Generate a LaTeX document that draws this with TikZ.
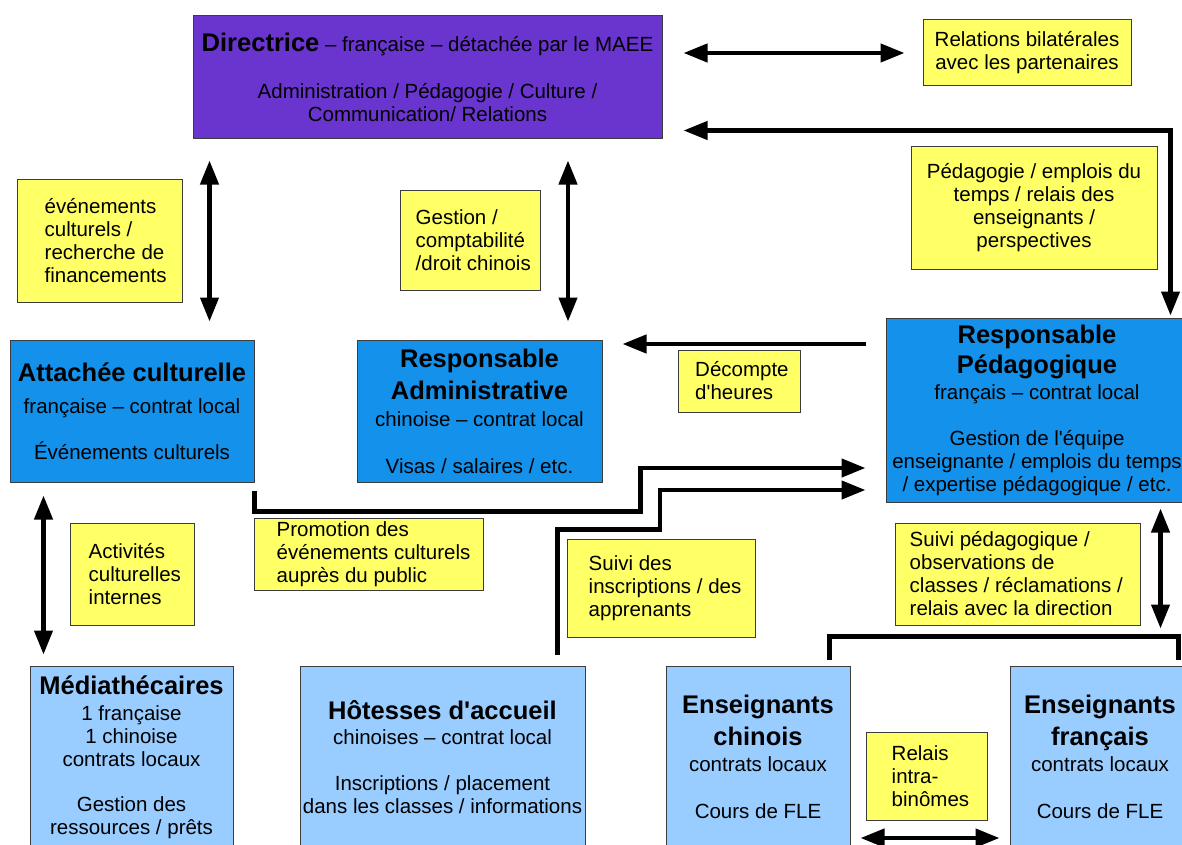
\documentclass[tikz,border=0pt]{standalone}
\usepackage{fontspec}
\setmainfont{Liberation Sans}
\usetikzlibrary{arrows.meta,calc}
\definecolor{purp}{RGB}{106,52,206}
\definecolor{blueD}{RGB}{20,145,235}
\definecolor{blueL}{RGB}{153,204,255}
\definecolor{yel}{RGB}{255,255,102}
\definecolor{bord}{RGB}{60,60,60}
\newcommand\TitF{\fontsize{25.5}{30}\selectfont\bfseries}
\tikzset{
  box/.style={draw=bord, line width=1pt, inner sep=0pt, align=center,
    font=\fontsize{20.5}{23}\selectfont, text=black},
  dirbox/.style={box, fill=purp},
  bbox/.style={box, fill=blueD},
  lbox/.style={box, fill=blueL},
  ybox/.style={box, fill=yel},
  ytxt/.style={anchor=west, align=left, inner sep=0pt,
    font=\fontsize{20.5}{23}\selectfont, text=black},
  bigtri/.tip={Triangle[width=18pt,length=24pt]},
  conn/.style={line width=4.3pt, draw=black, line join=miter},
  one/.style={conn, -bigtri},
  two/.style={conn, bigtri-bigtri},
}
\begin{document}
\begin{tikzpicture}[x=1pt,y=-1pt]
\useasboundingbox (0,0) rectangle (1182,845);
% top row
\node[dirbox, minimum width=469pt, minimum height=123pt] (dir) at (427.5,77.5)
  {{\TitF Directrice} -- française -- détachée par le MAEE\\[24pt]Administration / Pédagogie / Culture /\\Communication/ Relations};
\node[ybox, minimum width=208pt, minimum height=66pt] (rel) at (1027,53)
  {Relations bilatérales\\avec les partenaires};
\node[ybox, minimum width=246pt, minimum height=122pt] (ped) at (1034,208)
  {Pédagogie / emplois du\\temps / relais des\\enseignants /\\perspectives};
\node[ybox, minimum width=165pt, minimum height=122pt] (evt) at (99.5,241) {};
\node[ytxt] (evtT) at ($(evt.west)+(28,0)$)
  {événements\\culturels /\\recherche de\\financements};
\node[ybox, minimum width=140pt, minimum height=100pt] (ges) at (470,240) {};
\node[ytxt] (gesT) at ($(ges.west)+(16,0)$)
  {Gestion /\\comptabilité\\/droit chinois};
% middle row
\node[bbox, minimum width=244pt, minimum height=142pt] (att) at (132,411)
  {{\TitF Attachée culturelle}\\[9pt]française -- contrat local\\[23pt]Événements culturels};
\node[bbox, minimum width=245pt, minimum height=142pt] (adm) at (479.5,411)
  {{\TitF Responsable}\\[7pt]{\TitF Administrative}\\[4pt]chinoise -- contrat local\\[24pt]Visas / salaires / etc.};
\node[ybox, minimum width=122pt, minimum height=62pt] (dec) at (739.5,381) {};
\node[ytxt] (decT) at ($(dec.west)+(17,0)$)
  {Décompte\\d\textquotesingle heures};
\node[bbox, minimum width=302pt, minimum height=184pt] (rp) at (1037,410)
  {{\TitF Responsable}\\[5pt]{\TitF Pédagogique}\\[3pt]français -- contrat local\\[23pt]Gestion de l\textquotesingle équipe\\enseignante / emplois du temps\\/ expertise pédagogique / etc.};
% lower labels
\node[ybox, minimum width=124pt, minimum height=102pt] (act) at (132,574) {};
\node[ytxt] (actT) at ($(act.west)+(19,0)$)
  {Activités\\culturelles\\internes};
\node[ybox, minimum width=229pt, minimum height=72pt] (pro) at (368.5,554) {};
\node[ytxt] (proT) at ($(pro.west)+(23,0)$)
  {Promotion des\\événements culturels\\auprès du public};
\node[ybox, minimum width=188pt, minimum height=98pt] (ins) at (661,588) {};
\node[ytxt] (insT) at ($(ins.west)+(22,0)$)
  {Suivi des\\inscriptions / des\\apprenants};
\node[ybox, minimum width=245pt, minimum height=102pt] (spd) at (1017.5,574) {};
\node[ytxt] (spdT) at ($(spd.west)+(15,0)$)
  {Suivi pédagogique /\\observations de\\classes / réclamations /\\relais avec la direction};
% bottom row
\node[lbox, minimum width=203pt, minimum height=182pt] (med) at (131.5,757)
  {{\TitF Médiathécaires}\\[3pt]1 française\\1 chinoise\\contrats locaux\\[22pt]Gestion des\\ressources / prêts};
\node[lbox, minimum width=285pt, minimum height=182pt] (hot) at (442.5,757)
  {{\TitF Hôtesses d\textquotesingle accueil}\\[2pt]chinoises -- contrat local\\[23pt]Inscriptions / placement\\dans les classes / informations};
\node[lbox, minimum width=184pt, minimum height=182pt] (ech) at (758,757)
  {{\TitF Enseignants}\\[7pt]{\TitF chinois}\\[3pt]contrats locaux\\[24pt]Cours de FLE};
\node[ybox, minimum width=121pt, minimum height=88pt] (bin) at (926.5,776) {};
\node[ytxt] (binT) at ($(bin.west)+(26,0)$)
  {Relais\\intra-\\binômes};
\node[lbox, minimum width=180pt, minimum height=182pt] (efr) at (1100,757)
  {{\TitF Enseignants}\\[7pt]{\TitF français}\\[3pt]contrats locaux\\[24pt]Cours de FLE};
% connectors
\draw[two] ($(dir.east |- rel.west)+(21,0)$) -- ($(rel.west)+(-18,0)$);
\draw[two] ($(dir.south east)+(21,-9)$) -| ($(rp.north east)+(-18,-2)$);
\draw[two] ($(dir.south west)+(17,21)$) -- ($(att.north west)+(200,-18)$);
\draw[two] ($(dir.south)+(140.5,21)$) -- ($(adm.north)+(88.5,-18)$);
\draw[one] ($(rp.west)+(-20,-66)$) -- ($(adm.east)+(20,-67)$);
\draw[one] ($(att.south east)+(0,8)$) |- ($(att.south east)+(386,29)$) |- ($(rp.west)+(-20,58)$);
\draw[one] ($(hot.north east)+(-28,-11)$) |- ($(ins.north)+(-1,-9)$) |- ($(rp.west)+(-20,80)$);
\draw[two] ($(rp.south east)+(-28,6)$) -- ($(rp.south east)+(-28,126)$);
\draw[conn] ($(ech.north east)+(-21,-6)$) -- ++(0,-23) -| ($(efr.north east)+(-12,-6)$);
\draw[two] ($(att.south west)+(34,13)$) -- ($(med.north west)+(14,-11)$);
\draw[two] ($(ech.east)+(10,81)$) -- ($(efr.west)+(-10,81)$);
\end{tikzpicture}
\end{document}
